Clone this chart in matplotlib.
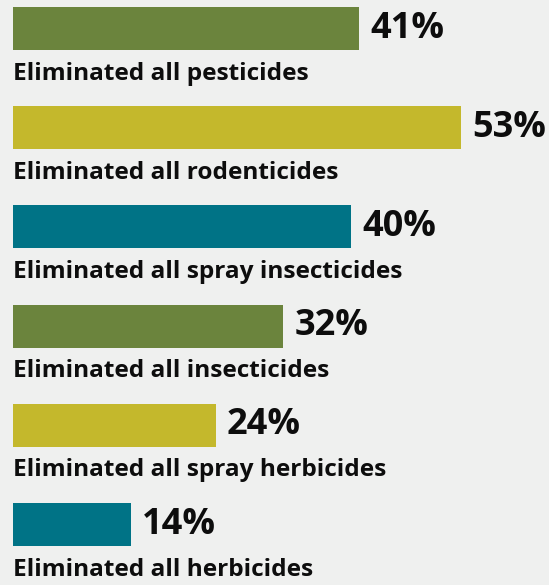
import matplotlib
matplotlib.use("Agg")
import matplotlib.pyplot as plt

labels = ["Eliminated all pesticides", "Eliminated all rodenticides",
          "Eliminated all spray insecticides", "Eliminated all insecticides",
          "Eliminated all spray herbicides", "Eliminated all herbicides"]
values = [41, 53, 40, 32, 24, 14]
colors = ["#6b843d", "#c4b82c", "#007386", "#6b843d", "#c4b82c", "#007386"]

bg = "#eff0ef"
plt.rcParams['font.family'] = ['Open Sans', 'DejaVu Sans']

fig = plt.figure(figsize=(5.49, 5.85), dpi=100, facecolor=bg)
ax = fig.add_axes([0, 0, 1, 1])
ax.set_facecolor(bg)

y = list(range(len(values)))
ax.barh(y, values, height=0.435, left=0, color=colors)

for i in range(len(values)):
    ax.text(values[i] + 1.3, i, str(values[i]) + "%", fontsize=26,
            fontweight='bold', va='center', ha='left', color='#0d0d0d')
    ax.text(0, i + 0.515, labels[i], fontsize=17.6, fontweight='bold',
            va='baseline', ha='left', color='#0d0d0d')

px = 8.45
ax.set_xlim(-13 / px, (549 - 13) / px)
ax.set_ylim((585 - 28.5) / 99.2, -28.5 / 99.2)
ax.axis('off')

fig.savefig("out.png", dpi=100, facecolor=bg)
